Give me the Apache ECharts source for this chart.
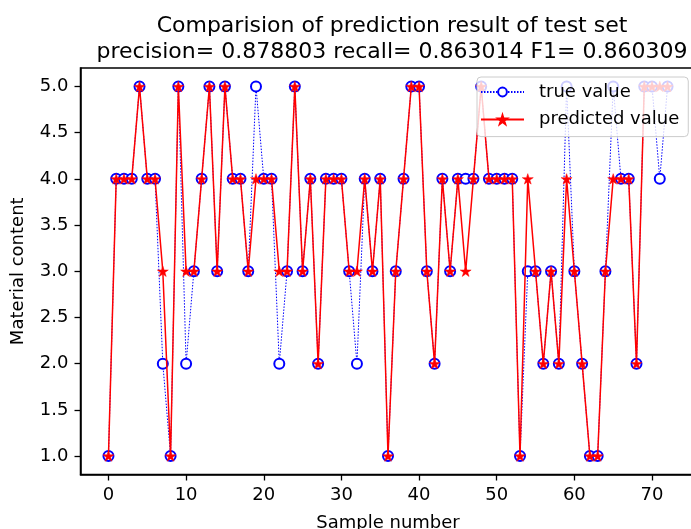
<!DOCTYPE html>
<html>
<head>
<meta charset="utf-8">
<script src="https://cdn.jsdelivr.net/npm/echarts@6/dist/echarts.min.js"></script>
<style>
html,body{margin:0;padding:0;background:#fff;}
#chart{width:691px;height:529px;}
</style>
</head>
<body>
<div id="chart"></div>
<script>
// Data
var sampleIndex = [];
for (var i = 0; i < 73; i++) sampleIndex.push(i);
var trueValues = [1,4,4,4,5,4,4,2,1,5,2,3,4,5,3,5,4,4,3,5,4,4,2,3,5,3,4,2,4,4,4,3,2,4,3,4,1,3,4,5,5,3,2,4,3,4,4,4,5,4,4,4,4,1,3,3,2,3,2,5,3,2,1,1,3,5,4,4,2,5,5,4,5];
var predValues = [1,4,4,4,5,4,4,3,1,5,3,3,4,5,3,5,4,4,3,4,4,4,3,3,5,3,4,2,4,4,4,3,3,4,3,4,1,3,4,5,5,3,2,4,3,4,3,4,5,4,4,4,4,1,4,3,2,3,2,4,3,2,1,1,3,4,4,4,2,5,5,5,5];
var xTicks = [0,10,20,30,40,50,60,70];
var yTicks = [1.0,1.5,2.0,2.5,3.0,3.5,4.0,4.5,5.0];
var titleLine1 = 'Comparision of prediction result of test set';
var titleLine2 = 'precision= 0.878803 recall= 0.863014 F1= 0.860309';

var starPath = 'path://M0,-1 L0.2245,-0.309 L0.951,-0.309 L0.3633,0.118 L0.5878,0.809 L0,0.382 L-0.5878,0.809 L-0.3633,0.118 L-0.951,-0.309 L-0.2245,-0.309 Z';

function pairs(arr){ return arr.map(function(v,i){ return [sampleIndex[i], v]; }); }

var font = 'DejaVu Sans';
var chart = echarts.init(document.getElementById('chart'), null, {renderer:'canvas'});
chart.setOption({
  animation: false,
  backgroundColor: '#fff',
  title: [{
    text: titleLine1 + '\n' + titleLine2,
    left: 387, top: 8, textAlign: 'center',
    textStyle: {fontFamily: font, fontSize: 22, fontWeight: 'normal', color: '#000', lineHeight: 26}
  }],
  legend: {
    orient: 'vertical',
    left: 477, top: 77,
    padding: [5, 9, 7, 3],
    itemWidth: 43, itemHeight: 11, itemGap: 7.6,
    backgroundColor: 'rgba(255,255,255,0.8)',
    borderColor: '#cccccc', borderWidth: 1, borderRadius: 4,
    textStyle: {fontFamily: font, fontSize: 18, color: '#000', lineHeight: 20, padding: [0, 0, 0, 10]},
    data: ['true value', 'predicted value']
  },
  grid: {left: 80.5, top: 68, width: 615, height: 406.5, show: true, borderColor: '#000', borderWidth: 1.5,
         containLabel: false, outerBoundsMode: 'none'},
  xAxis: {
    type: 'value', min: -3.6, max: 75.6,
    name: 'Sample number', nameLocation: 'middle', nameGap: 40,
    nameTextStyle: {fontFamily: font, fontSize: 18, color: '#000'},
    axisLine: {show: true, onZero: false, lineStyle: {color: '#000', width: 1.5}},
    axisTick: {show: true, inside: false, length: 6, lineStyle: {color: '#000', width: 1.3}, customValues: xTicks},
    axisLabel: {fontFamily: font, fontSize: 18, color: '#000', margin: 12, customValues: xTicks},
    splitLine: {show: false}
  },
  yAxis: {
    type: 'value', min: 0.8, max: 5.2,
    name: 'Material content', nameLocation: 'middle', nameGap: 53,
    nameTextStyle: {fontFamily: font, fontSize: 18, color: '#000'},
    axisLine: {show: true, onZero: false, lineStyle: {color: '#000', width: 1.5}},
    axisTick: {show: true, inside: false, length: 6, lineStyle: {color: '#000', width: 1.3}, customValues: yTicks},
    axisLabel: {fontFamily: font, fontSize: 18, color: '#000', margin: 12, customValues: yTicks,
      formatter: function(v){ return Number(v).toFixed(1); }},
    splitLine: {show: false}
  },
  series: [{
    name: 'true value', type: 'line', data: pairs(trueValues),
    symbol: 'circle', symbolSize: 10,
    lineStyle: {color: '#0000ff', width: 1, type: [1.5, 1.5]},
    itemStyle: {color: '#ffffff', borderColor: '#0000ff', borderWidth: 2},
    z: 2
  }, {
    name: 'predicted value', type: 'line', data: pairs(predValues),
    symbol: starPath, symbolSize: 11, symbolKeepAspect: true,
    lineStyle: {color: '#ff0000', width: 1.5},
    itemStyle: {color: '#ff0000', borderColor: '#ff0000', borderWidth: 0.5},
    z: 3
  }]
});
</script>
</body>
</html>
